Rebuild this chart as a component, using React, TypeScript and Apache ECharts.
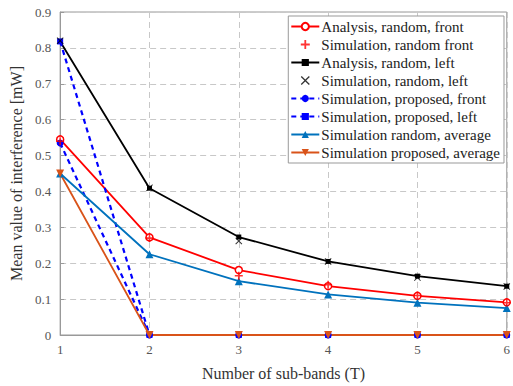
import React, { useEffect, useRef } from "react";
import * as echarts from "echarts";

const subBands = [1, 2, 3, 4, 5, 6];
const analysisRandomFront = [0.545, 0.272, 0.181, 0.136, 0.109, 0.091];
const simRandomFront = [0.54, 0.27, 0.165, 0.14, 0.11, 0.09];
const analysisRandomLeft = [0.818, 0.409, 0.273, 0.205, 0.164, 0.136];
const simRandomLeft = [0.82, 0.41, 0.262, 0.205, 0.16, 0.135];
const simProposedFront = [0.535, 0, 0, 0, 0, 0];
const simProposedLeft = [0.818, 0, 0, 0, 0, 0];
const simRandomAverage = [0.45, 0.225, 0.15, 0.113, 0.09, 0.075];
const simProposedAverage = [0.45, 0, 0, 0, 0, 0];
const yTicks = [0, 0.1, 0.2, 0.3, 0.4, 0.5, 0.6, 0.7, 0.8, 0.9];

const PLUS = "path://M4,0 H6 V4 H10 V6 H6 V10 H4 V6 H0 V4 H4 Z";
const CROSS =
  "path://M1,0 L5,4 L9,0 L10,1 L6,5 L10,9 L9,10 L5,6 L1,10 L0,9 L4,5 L0,1 Z";
const DOWN_TRI = "path://M0,0 L10,0 L5,9 Z";

const pts = (ys: number[]) => subBands.map((x, i) => [x, ys[i]]);

export default function App() {
  const ref = useRef<HTMLDivElement>(null);
  useEffect(() => {
    document.body.style.margin = "0";
    const chart = echarts.init(ref.current!, null, { renderer: "svg" });
    const font = "'Liberation Serif', 'Times New Roman', serif";
    const line = (
      name: string,
      ys: number[],
      color: string,
      symbol: string,
      size: number,
      dashed = false,
      hollow = false
    ) => ({
      name,
      type: "line",
      data: pts(ys),
      symbol,
      symbolSize: size,
      showSymbol: true,
      lineStyle: {
        color,
        width: dashed ? 2.2 : 1.8,
        type: dashed ? [5, 4] : "solid",
      },
      itemStyle: hollow
        ? { color: "#ffffff", borderColor: color, borderWidth: 1.5 }
        : { color },
      z: 3,
    });
    const scatter = (name: string, ys: number[], color: string, symbol: string, size: number) => ({
      name,
      type: "scatter",
      data: pts(ys),
      symbol,
      symbolSize: size,
      itemStyle: { color },
      z: 4,
    });
    chart.setOption({
      animation: false,
      backgroundColor: "#ffffff",
      textStyle: { fontFamily: font },
      grid: {
        left: 57,
        right: 2,
        top: 12,
        bottom: 46,
        show: true,
        borderColor: "#999999",
        borderWidth: 1,
      },
      legend: {
        orient: "vertical",
        right: 9,
        top: 16,
        backgroundColor: "#ffffff",
        borderColor: "#999999",
        borderWidth: 1,
        borderRadius: 0,
        padding: [3, 4, 3, 2],
        itemWidth: 28,
        itemHeight: 9,
        itemGap: 3,
        textStyle: { fontFamily: font, fontSize: 15, color: "#222222", lineHeight: 14, padding: [0, 0, 0, -3] },
        data: [
          "Analysis, random, front",
          "Simulation, random front",
          "Analysis, random, left",
          "Simulation, random, left",
          "Simulation, proposed, front",
          "Simulation, proposed, left",
          "Simulation random, average",
          "Simulation proposed, average",
        ],
      },
      xAxis: {
        type: "value",
        min: 1,
        max: 6,
        interval: 1,
        name: "Number of sub-bands (T)",
        nameLocation: "middle",
        nameGap: 30,
        nameTextStyle: { fontFamily: font, fontSize: 16, color: "#333333" },
        axisLine: { lineStyle: { color: "#999999" } },
        axisTick: { inside: true, length: 4, lineStyle: { color: "#999999" } },
        axisLabel: { fontFamily: font, fontSize: 13, color: "#555555", margin: 8 },
        splitLine: { show: true, lineStyle: { color: "#c8c8c8", type: [6, 4] } },
      },
      yAxis: {
        type: "value",
        min: 0,
        max: 0.9,
        interval: 0.1,
        name: "Mean value of interference [mW]",
        nameLocation: "middle",
        nameGap: 32,
        nameTextStyle: { fontFamily: font, fontSize: 16, color: "#333333" },
        axisLine: { show: true, lineStyle: { color: "#999999" } },
        axisTick: { inside: true, length: 4, lineStyle: { color: "#999999" } },
        axisLabel: {
          fontFamily: font,
          fontSize: 13,
          color: "#555555",
          margin: 9,
          formatter: (v: number) => {
            const t = yTicks.find((y) => Math.abs(y - v) < 1e-6);
            return String(t !== undefined ? t : +v.toFixed(1));
          },
        },
        splitLine: { show: true, lineStyle: { color: "#c8c8c8", type: [6, 4] } },
      },
      series: [
        line("Analysis, random, front", analysisRandomFront, "#ff0000", "circle", 7, false, true),
        scatter("Simulation, random front", simRandomFront, "#ff0000", PLUS, 8),
        line("Analysis, random, left", analysisRandomLeft, "#000000", "rect", 5),
        scatter("Simulation, random, left", simRandomLeft, "#000000", CROSS, 7),
        line("Simulation, proposed, front", simProposedFront, "#0000ff", "circle", 7, true),
        line("Simulation, proposed, left", simProposedLeft, "#0000ff", "rect", 6, true),
        line("Simulation random, average", simRandomAverage, "#0072bd", "triangle", 8),
        line("Simulation proposed, average", simProposedAverage, "#d95319", DOWN_TRI, 8),
      ],
    });
    return () => chart.dispose();
  }, []);
  return <div ref={ref} style={{ width: 513, height: 386 }} />;
}
